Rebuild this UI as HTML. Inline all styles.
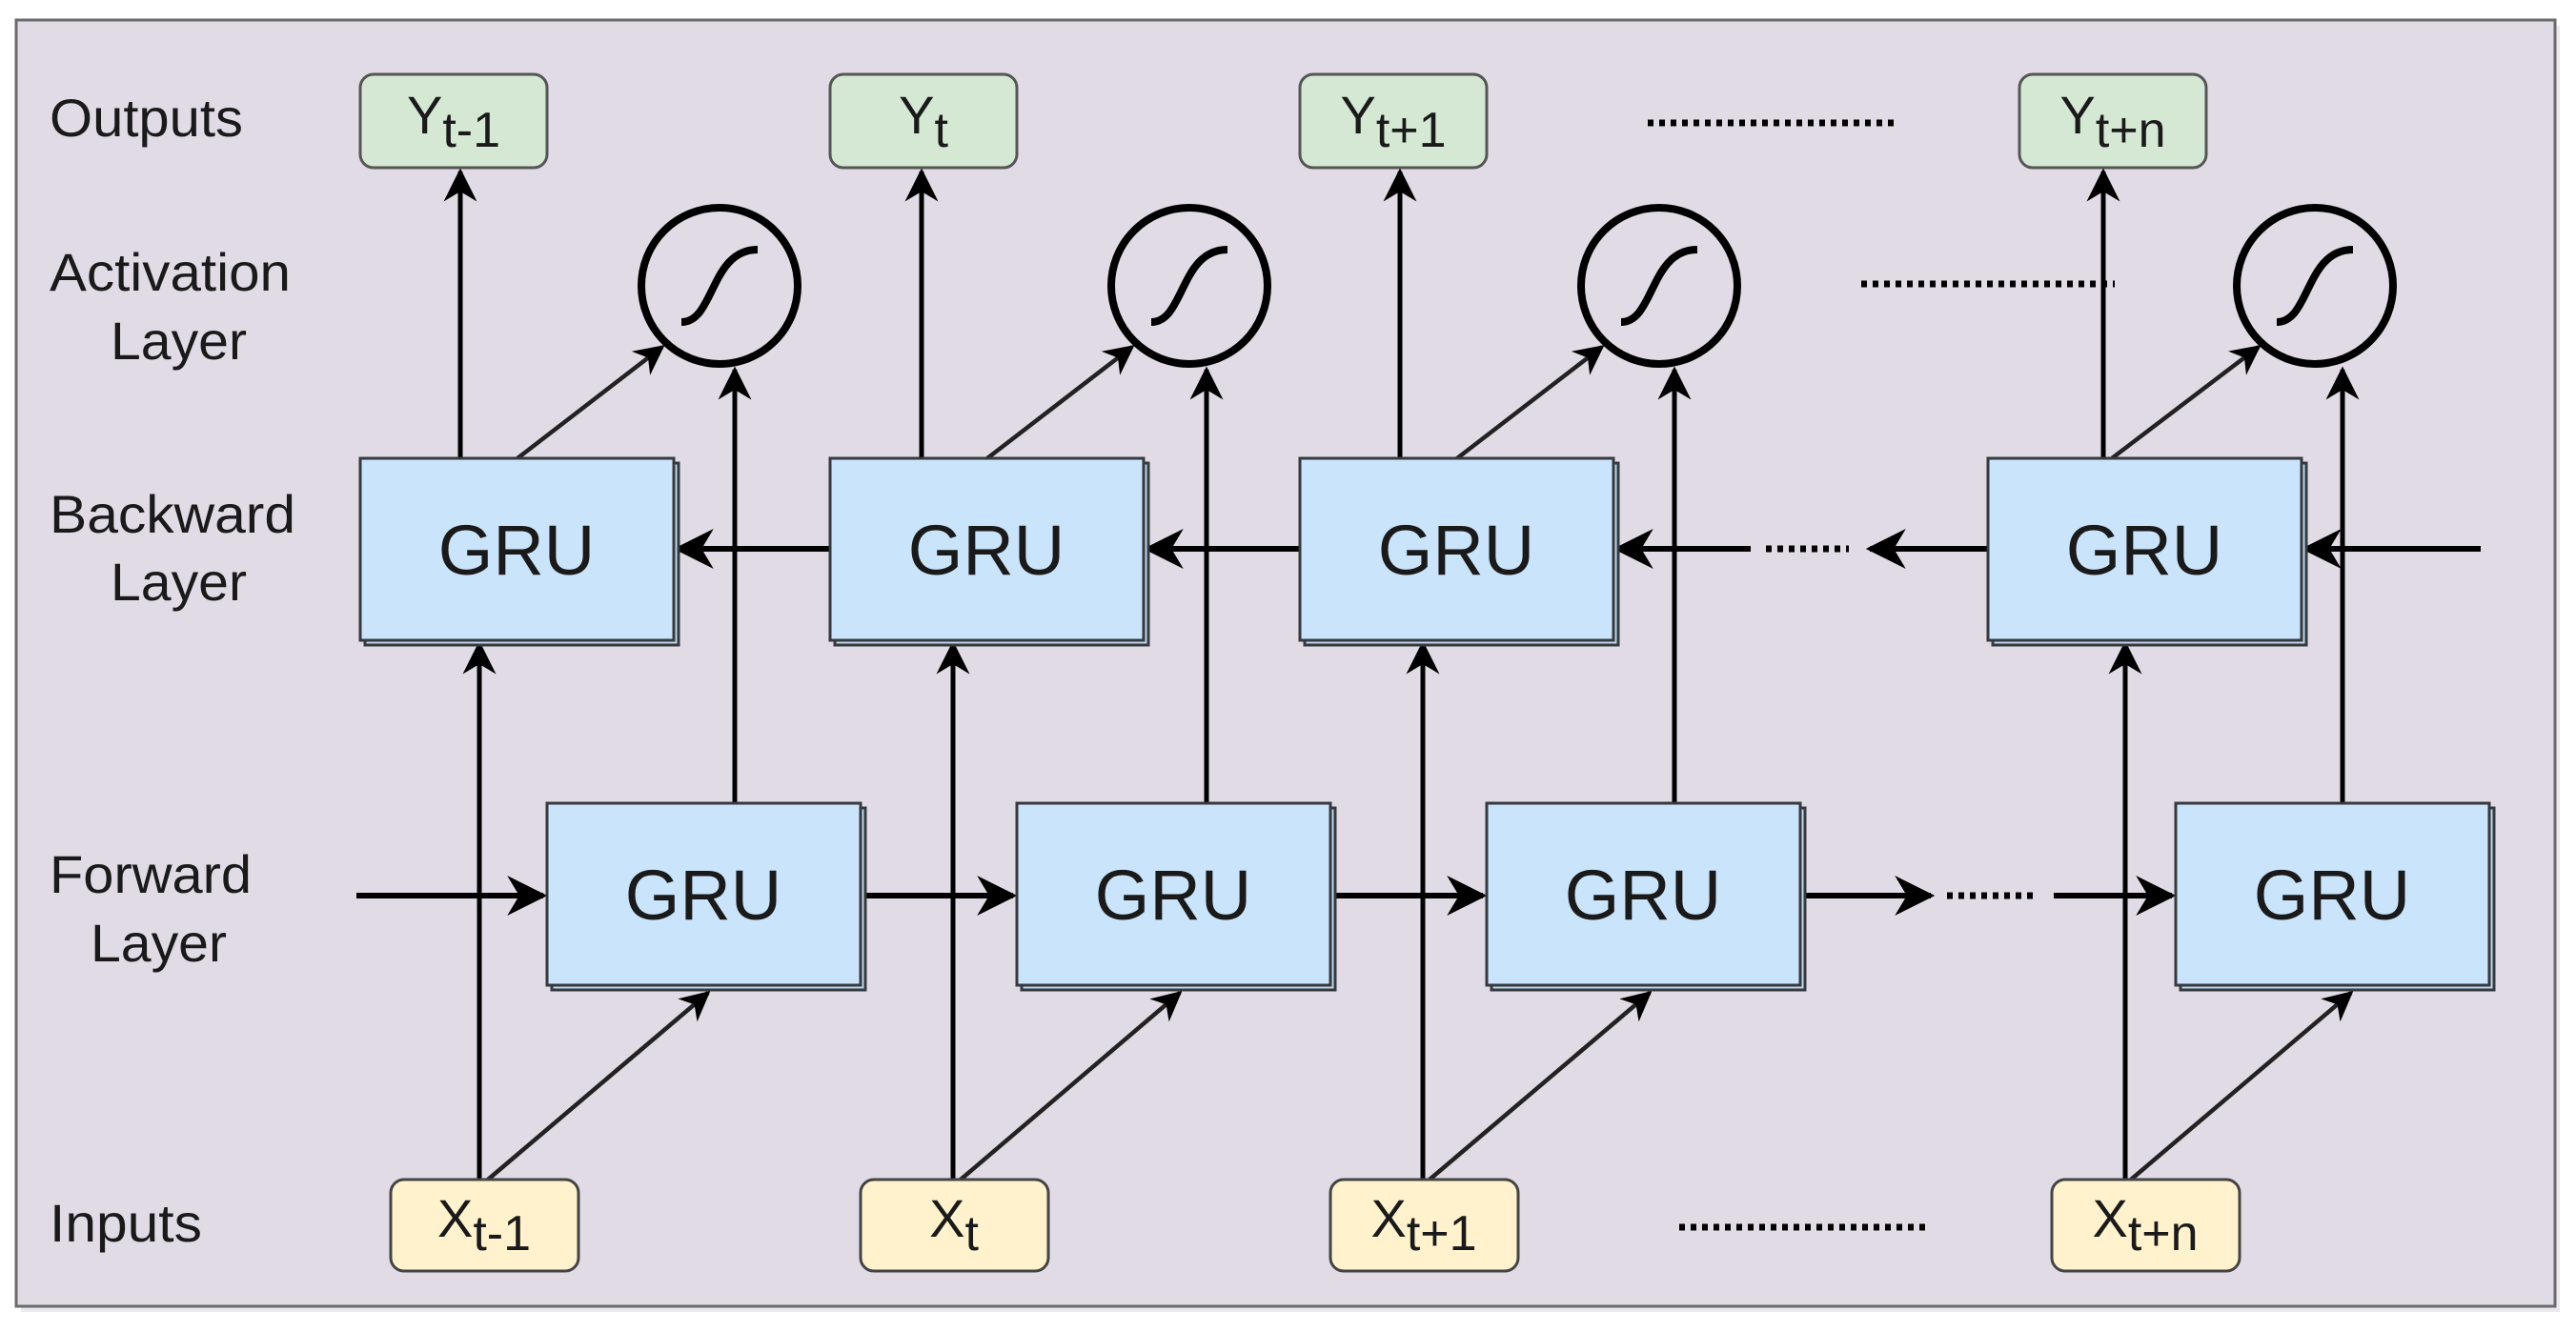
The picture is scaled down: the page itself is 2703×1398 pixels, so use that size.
<!DOCTYPE html>
<html><head><meta charset="utf-8"><style>
html,body{margin:0;padding:0;background:#fff;}
svg{display:block;}
text{font-family:"Liberation Sans",Arial,sans-serif;fill:#1a1a1a;}
</style></head><body>
<svg width="2703" height="1398" viewBox="0 0 2703 1398" xmlns="http://www.w3.org/2000/svg">
<defs>
<marker id="b" viewBox="0 0 10 10" refX="9" refY="5" markerWidth="7" markerHeight="7" orient="auto" markerUnits="strokeWidth"><path d="M0,0 L10,5 L0,10 L3,5 z" fill="#000"/></marker>
</defs>
<rect x="22" y="27" width="2664" height="1350" fill="#ece8ee"/>
<rect x="17" y="21" width="2664" height="1350" fill="#e1dbe6" stroke="#6b6b6b" stroke-width="3"/>

<g font-size="56" transform="scale(1,1)">
<text x="52" y="143" textLength="203" lengthAdjust="spacingAndGlyphs">Outputs</text>
<text x="52" y="305" textLength="253" lengthAdjust="spacingAndGlyphs">Activation</text>
<text x="116" y="377" textLength="143" lengthAdjust="spacingAndGlyphs">Layer</text>
<text x="52" y="559" textLength="258" lengthAdjust="spacingAndGlyphs">Backward</text>
<text x="116" y="630" textLength="143" lengthAdjust="spacingAndGlyphs">Layer</text>
<text x="52" y="937" textLength="212" lengthAdjust="spacingAndGlyphs">Forward</text>
<text x="95" y="1009" textLength="143" lengthAdjust="spacingAndGlyphs">Layer</text>
<text x="52" y="1303" textLength="160" lengthAdjust="spacingAndGlyphs">Inputs</text>
</g>

<g stroke="#000" fill="none">
<g stroke-width="5" marker-end="url(#b)">
<line x1="483" y1="481" x2="483" y2="180"/>
<line x1="967" y1="481" x2="967" y2="180"/>
<line x1="1469" y1="481" x2="1469" y2="180"/>
<line x1="2207" y1="481" x2="2207" y2="180"/>
</g>
<g stroke-width="4.5" stroke="#222" marker-end="url(#b)">
<line x1="543" y1="481" x2="695" y2="364"/>
<line x1="1036" y1="481" x2="1188" y2="364"/>
<line x1="1529" y1="481" x2="1681" y2="364"/>
<line x1="2216" y1="481" x2="2370" y2="364"/>
</g>
<g stroke-width="5" marker-end="url(#b)">
<line x1="771" y1="843" x2="771" y2="388"/>
<line x1="1266" y1="843" x2="1266" y2="388"/>
<line x1="1757" y1="843" x2="1757" y2="388"/>
<line x1="2458" y1="843" x2="2458" y2="388"/>
</g>
<g stroke-width="5" marker-end="url(#b)">
<line x1="503" y1="1238" x2="503" y2="676"/>
<line x1="1000" y1="1238" x2="1000" y2="676"/>
<line x1="1493" y1="1238" x2="1493" y2="676"/>
<line x1="2230" y1="1238" x2="2230" y2="676"/>
</g>
<g stroke-width="4.5" stroke="#222" marker-end="url(#b)">
<line x1="512" y1="1238" x2="743" y2="1042"/>
<line x1="1008" y1="1238" x2="1238" y2="1042"/>
<line x1="1500" y1="1238" x2="1731" y2="1042"/>
<line x1="2236" y1="1238" x2="2467" y2="1042"/>
</g>
<g stroke-width="6" marker-end="url(#b)">
<line x1="871" y1="576" x2="711" y2="576"/>
<line x1="1364" y1="576" x2="1204" y2="576"/>
<line x1="1837" y1="576" x2="1697" y2="576"/>
<line x1="2086" y1="576" x2="1962" y2="576"/>
<line x1="2603" y1="576" x2="2419" y2="576"/>
</g>
<g stroke-width="6" marker-end="url(#b)">
<line x1="374" y1="940" x2="570" y2="940"/>
<line x1="907" y1="940" x2="1063" y2="940"/>
<line x1="1400" y1="940" x2="1556" y2="940"/>
<line x1="1893" y1="940" x2="2026" y2="940"/>
<line x1="2155" y1="940" x2="2279" y2="940"/>
</g>
<g stroke-width="7" stroke-dasharray="6 6">
<line x1="1853" y1="576" x2="1940" y2="576"/>
<line x1="2043" y1="940" x2="2134" y2="940"/>
<line x1="1729" y1="129" x2="1991" y2="129"/>
<line x1="1953" y1="298" x2="2219" y2="298"/>
<line x1="1762" y1="1288" x2="2022" y2="1288"/>
</g>
</g>

<g fill="none" stroke="#000" stroke-width="8">
<g transform="translate(755,300)"><circle r="82"/><path d="M-40,38 C-5,38 -10,-38 40,-38"/></g>
<g transform="translate(1248,300)"><circle r="82"/><path d="M-40,38 C-5,38 -10,-38 40,-38"/></g>
<g transform="translate(1741,300)"><circle r="82"/><path d="M-40,38 C-5,38 -10,-38 40,-38"/></g>
<g transform="translate(2429,300)"><circle r="82"/><path d="M-40,38 C-5,38 -10,-38 40,-38"/></g>
</g>

<g stroke="#36393d" stroke-width="3">
<g fill="#bcd6ee">
<rect x="383" y="486" width="329" height="191"/><rect x="876" y="486" width="329" height="191"/>
<rect x="1369" y="486" width="329" height="191"/><rect x="2091" y="486" width="329" height="191"/>
<rect x="579" y="848" width="329" height="191"/><rect x="1072" y="848" width="329" height="191"/>
<rect x="1565" y="848" width="329" height="191"/><rect x="2288" y="848" width="329" height="191"/>
</g>
<g fill="#cae4fb">
<rect x="378" y="481" width="329" height="191"/><rect x="871" y="481" width="329" height="191"/>
<rect x="1364" y="481" width="329" height="191"/><rect x="2086" y="481" width="329" height="191"/>
<rect x="574" y="843" width="329" height="191"/><rect x="1067" y="843" width="329" height="191"/>
<rect x="1560" y="843" width="329" height="191"/><rect x="2283" y="843" width="329" height="191"/>
</g>
</g>
<g font-size="74" text-anchor="middle">
<text x="542" y="603">GRU</text><text x="1035" y="603">GRU</text><text x="1528" y="603">GRU</text><text x="2250" y="603">GRU</text>
<text x="738" y="965">GRU</text><text x="1231" y="965">GRU</text><text x="1724" y="965">GRU</text><text x="2447" y="965">GRU</text>
</g>

<g fill="#d5e8d4" stroke="#555" stroke-width="3">
<rect x="378" y="78" width="196" height="98" rx="14"/>
<rect x="871" y="78" width="196" height="98" rx="14"/>
<rect x="1364" y="78" width="196" height="98" rx="14"/>
<rect x="2119" y="78" width="196" height="98" rx="14"/>
</g>
<g font-size="56" text-anchor="middle">
<text x="476" y="140">Y<tspan font-size="52" dy="14">t-1</tspan></text>
<text x="969" y="140">Y<tspan font-size="52" dy="14">t</tspan></text>
<text x="1462" y="140">Y<tspan font-size="52" dy="14">t+1</tspan></text>
<text x="2217" y="140">Y<tspan font-size="52" dy="14">t+n</tspan></text>
</g>

<g fill="#fff2cc" stroke="#444" stroke-width="3">
<rect x="410" y="1238" width="197" height="96" rx="14"/>
<rect x="903" y="1238" width="197" height="96" rx="14"/>
<rect x="1396" y="1238" width="197" height="96" rx="14"/>
<rect x="2153" y="1238" width="197" height="96" rx="14"/>
</g>
<g font-size="56" text-anchor="middle">
<text x="508" y="1298">X<tspan font-size="52" dy="14">t-1</tspan></text>
<text x="1001" y="1298">X<tspan font-size="52" dy="14">t</tspan></text>
<text x="1494" y="1298">X<tspan font-size="52" dy="14">t+1</tspan></text>
<text x="2251" y="1298">X<tspan font-size="52" dy="14">t+n</tspan></text>
</g>
</svg>
</body></html>
